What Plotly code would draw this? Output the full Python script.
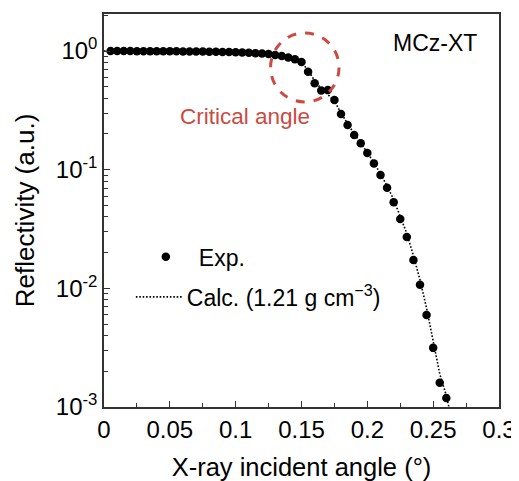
import numpy as np
import plotly.graph_objects as go

# ---- data ----
exp_angle = [0.005, 0.01, 0.015, 0.02, 0.025, 0.03, 0.035, 0.04, 0.045, 0.05,
             0.055, 0.06, 0.065, 0.07, 0.075, 0.08, 0.085, 0.09, 0.095, 0.1,
             0.105, 0.11, 0.115, 0.12, 0.125, 0.13, 0.135, 0.14, 0.145, 0.15,
             0.155, 0.16, 0.165, 0.17, 0.175, 0.18, 0.185, 0.19, 0.195, 0.2,
             0.205, 0.21, 0.215, 0.22, 0.225, 0.23, 0.235, 0.24, 0.245, 0.25,
             0.255, 0.26]
exp_refl = [1.0, 1.0, 1.0, 1.0, 0.995, 0.995, 0.995, 0.995, 0.995, 0.995,
            0.995, 0.99, 0.99, 0.99, 0.99, 0.985, 0.985, 0.98, 0.98, 0.975,
            0.97, 0.965, 0.96, 0.955, 0.943, 0.925, 0.908, 0.882, 0.851, 0.808,
            0.669, 0.535, 0.465, 0.47, 0.386, 0.294, 0.238, 0.196, 0.167, 0.138,
            0.113, 0.090, 0.0705, 0.0531, 0.0384, 0.0271, 0.0173, 0.0107, 0.00597, 0.00315,
            0.0016, 0.00119]

calc_angle = [0.0, 0.05, 0.1, 0.12, 0.13, 0.14, 0.145, 0.15, 0.155, 0.16,
              0.165, 0.17, 0.175, 0.18, 0.185, 0.19, 0.195, 0.2, 0.205, 0.21,
              0.215, 0.22, 0.225, 0.23, 0.235, 0.24, 0.245, 0.25, 0.255, 0.26, 0.265]
calc_refl = [1.0, 1.0, 0.985, 0.96, 0.935, 0.89, 0.855, 0.80, 0.69, 0.56,
             0.48, 0.43, 0.38, 0.30, 0.245, 0.2, 0.168, 0.14, 0.115, 0.092,
             0.073, 0.056, 0.041, 0.029, 0.0188, 0.0118, 0.0068, 0.0036, 0.0019, 0.00125, 0.0007]

x_ticks = [0, 0.05, 0.1, 0.15, 0.2, 0.25, 0.3]
x_ticklabels = ["0", "0.05", "0.1", "0.15", "0.2", "0.25", "0.3"]
y_ticks = [1e-3, 1e-2, 1e-1, 1]
y_ticklabels = ["10<sup>-3</sup>", "10<sup>-2</sup>", "10<sup>-1</sup>", "10<sup>0</sup>"]

sample_label = "MCz-XT"
note_label = "Critical angle"
red = "#cb4a42"
font_family = "Liberation Sans, Arial, sans-serif"

fig = go.Figure()
fig.add_trace(go.Scatter(
    x=calc_angle, y=calc_refl, mode="lines", name="Calc. (1.21 g cm<sup>\u22123</sup>)",
    line=dict(color="black", width=1.6, dash="1.6px,1.8px"), legend="legend2",
))
fig.add_trace(go.Scatter(
    x=exp_angle, y=exp_refl, mode="markers", name="Exp.",
    marker=dict(color="black", size=8.5), legend="legend",
))

# critical-angle circle (data coords)
fig.add_shape(type="circle", xref="x", yref="y",
              x0=0.1265, x1=0.1785, y0=0.372, y1=1.42,
              line=dict(color=red, width=3, dash="dash"))

fig.add_annotation(x=0.107, y=np.log10(0.278), xref="x", yref="y", text=note_label,
                   showarrow=False, font=dict(color=red, size=22.5, family=font_family))
fig.add_annotation(x=0.2845, y=np.log10(1.16), xref="x", yref="y", text=sample_label,
                   showarrow=False, xanchor="right",
                   font=dict(color="black", size=23, family=font_family))

axis_common = dict(showline=True, linecolor="#333", linewidth=1.5, mirror=True,
                   ticks="inside", tickcolor="#333", ticklen=6, tickwidth=1.2,
                   showgrid=False, zeroline=False, automargin=False,
                   tickfont=dict(size=24, color="black", family=font_family))

fig.update_xaxes(range=[0, 0.3], tickvals=x_ticks, ticktext=x_ticklabels,
                 minor=dict(ticks="inside", ticklen=4, dtick=0.025, tickcolor="#333"),
                 title=dict(text="X-ray incident angle (\u00b0)", standoff=17,
                            font=dict(size=25.5, color="black", family=font_family)),
                 **axis_common)
fig.update_yaxes(type="log", range=[-3, 0.312], tickvals=y_ticks, ticktext=y_ticklabels,
                 minor=dict(ticks="inside", ticklen=4, tickcolor="#333", dtick="D1"),
                 title=dict(text="Reflectivity (a.u.)", standoff=14,
                            font=dict(size=26, color="black", family=font_family)),
                 **axis_common)

fig.update_layout(
    width=511, height=473,
    margin=dict(l=96, r=20, t=6, b=74),
    plot_bgcolor="white", paper_bgcolor="white",
    font=dict(family=font_family, color="black"),
    showlegend=True,
    legend=dict(x=0.073, y=0.382, xanchor="left", yanchor="middle",
                bgcolor="rgba(0,0,0,0)", font=dict(size=23), itemwidth=56),
    legend2=dict(x=0.068, y=0.28, xanchor="left", yanchor="middle",
                 bgcolor="rgba(0,0,0,0)", font=dict(size=23), itemwidth=46),
)

fig.write_html("out.html")
